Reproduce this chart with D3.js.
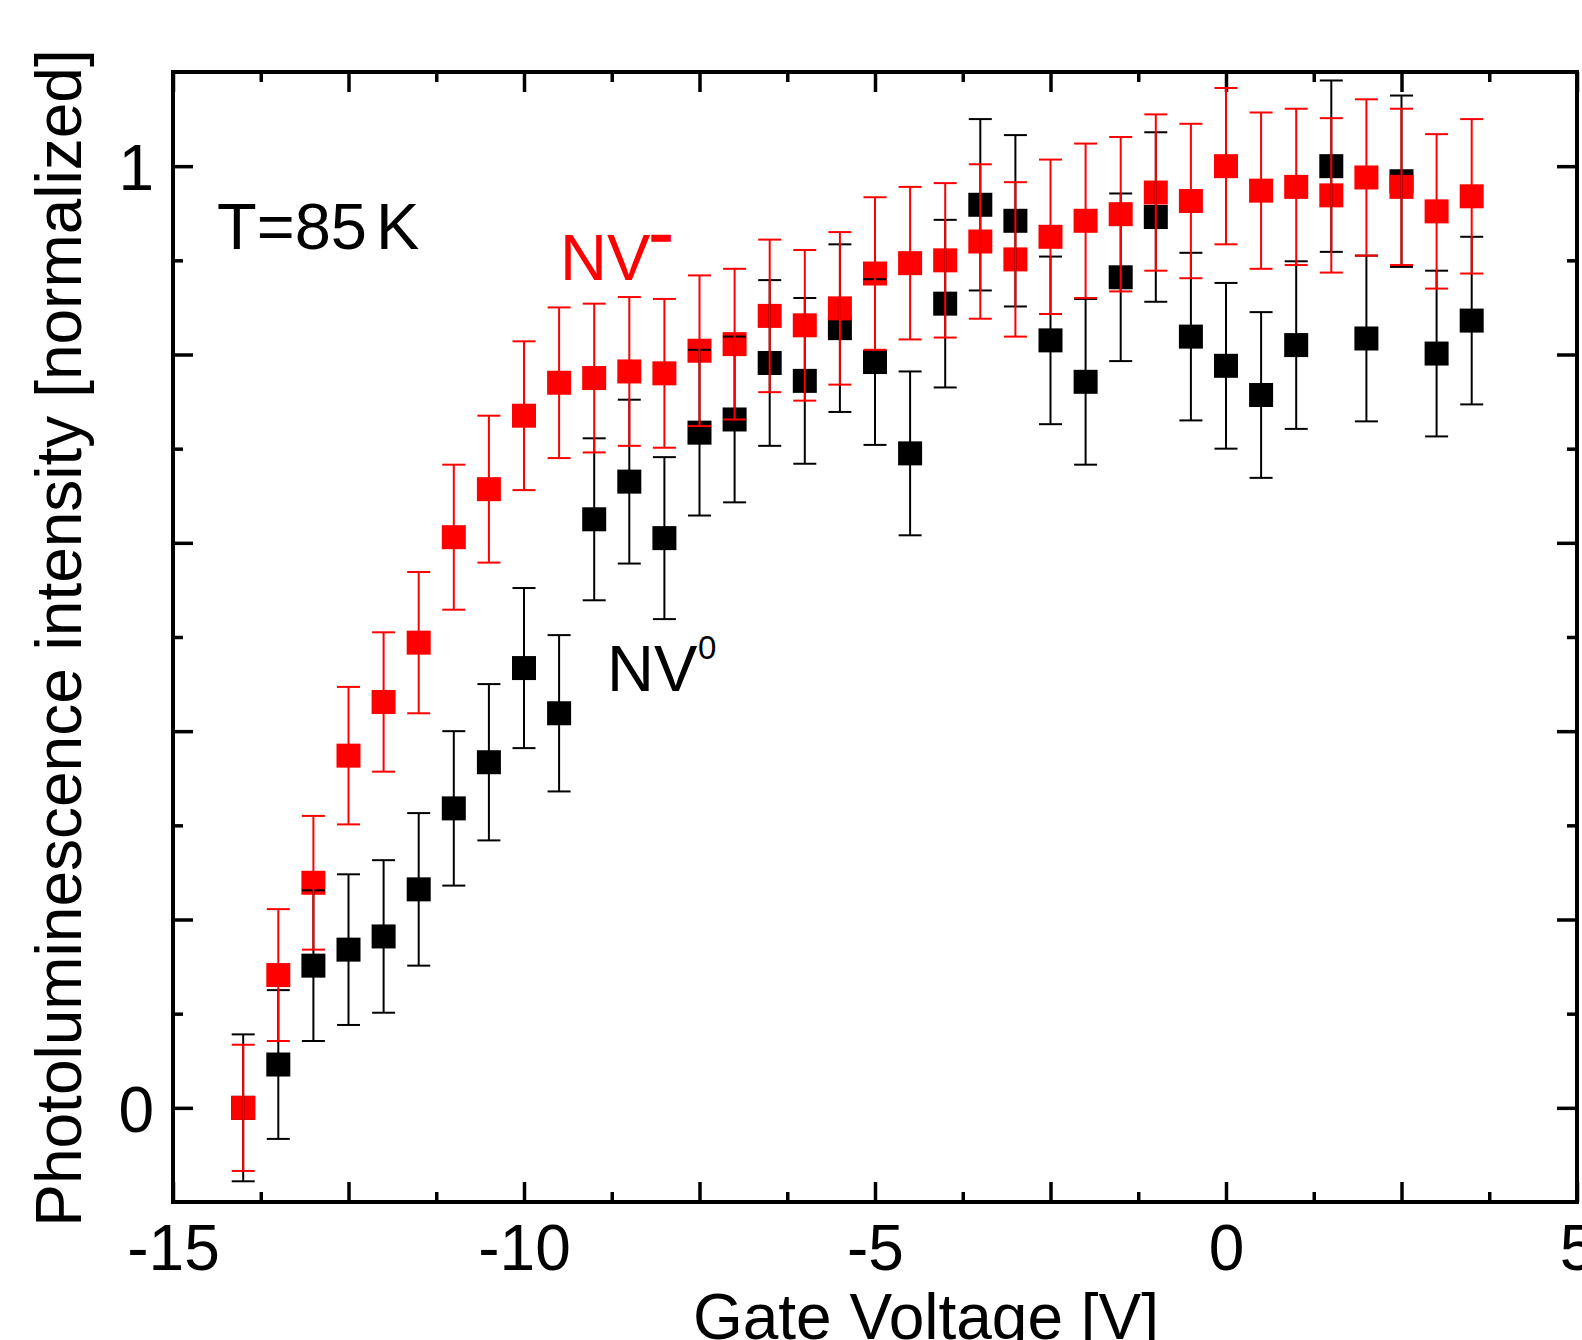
<!DOCTYPE html>
<html>
<head>
<meta charset="utf-8">
<script src="https://cdn.jsdelivr.net/npm/d3@7"></script>
<style>
  html, body { margin: 0; padding: 0; background: #fff; }
  svg { display: block; font-family: "Liberation Sans", Arial, sans-serif; }
</style>
</head>
<body>
<svg id="chart" width="1582" height="1340"></svg>
<script>
// gate voltage steps [V]
const voltage = [-14, -13.5, -13, -12.5, -12, -11.5, -11, -10.5, -10, -9.5, -9, -8.5, -8, -7.5, -7, -6.5, -6, -5.5,
  -5, -4.5, -4, -3.5, -3, -2.5, -2, -1.5, -1, -0.5, 0, 0.5, 1, 1.5, 2, 2.5, 3, 3.5];

// NV- (red)
const nvMinus = [0.000, 0.141, 0.239, 0.374, 0.431, 0.494, 0.606, 0.657, 0.735, 0.770, 0.775, 0.782, 0.780, 0.804,
  0.811, 0.841, 0.831, 0.849, 0.886, 0.897, 0.900, 0.920, 0.901, 0.925, 0.942, 0.949, 0.972, 0.963, 1.000, 0.974,
  0.978, 0.969, 0.988, 0.978, 0.952, 0.968];
const nvMinusErr = [0.067, 0.070, 0.071, 0.073, 0.074, 0.075, 0.077, 0.078, 0.079, 0.080, 0.079, 0.079, 0.079, 0.080,
  0.080, 0.081, 0.080, 0.081, 0.081, 0.081, 0.082, 0.082, 0.082, 0.082, 0.082, 0.082, 0.083, 0.082, 0.083, 0.083,
  0.083, 0.082, 0.083, 0.083, 0.082, 0.082];

// NV0 (black)
const nvZero = [0.000, 0.046, 0.151, 0.168, 0.182, 0.232, 0.318, 0.367, 0.467, 0.419, 0.625, 0.665, 0.605, 0.717,
  0.731, 0.791, 0.772, 0.828, 0.792, 0.695, 0.854, 0.959, 0.942, 0.815, 0.771, 0.882, 0.946, 0.819, 0.788, 0.757,
  0.810, 1.000, 0.817, 0.984, 0.801, 0.836];
const nvZeroErr = [0.078, 0.079, 0.080, 0.080, 0.081, 0.081, 0.082, 0.083, 0.085, 0.083, 0.086, 0.087, 0.086, 0.088,
  0.088, 0.088, 0.088, 0.089, 0.088, 0.087, 0.089, 0.091, 0.091, 0.089, 0.088, 0.089, 0.090, 0.089, 0.088, 0.088,
  0.089, 0.091, 0.088, 0.091, 0.088, 0.089];

// ticks
const xMajorTicks = [-15, -12.5, -10, -7.5, -5, -2.5, 0, 2.5, 5];
const xMinorTicks = [-13.75, -11.25, -8.75, -6.25, -3.75, -1.25, 1.25, 3.75];
const xLabels = [-15, -10, -5, 0, 5];
const yMajorTicks = [0, 0.2, 0.4, 0.6, 0.8, 1];
const yMinorTicks = [0.1, 0.3, 0.5, 0.7, 0.9];
const yLabels = [0, 1];

const FONT = '"Liberation Sans", Arial, sans-serif';
const frame = { left: 173, right: 1577, top: 72, bottom: 1202 };

const x = d3.scaleLinear().domain([-15, 5]).range([frame.left, frame.right]);
const y = d3.scaleLinear().domain([-0.1, 1.1]).range([frame.bottom, frame.top]);

const svg = d3.select('#chart');

// ticks point inward on all four sides, labels only bottom/left
function addAxis(gen, tx, ty, ticks, len, labels, pad) {
  const g = svg.append('g').attr('transform', `translate(${tx},${ty})`)
    .call(gen.tickValues(ticks).tickSize(-len).tickPadding(pad || 0)
      .tickFormat(d => labels && labels.includes(d) ? String(d) : ''));
  g.attr('font-family', FONT).attr('font-size', 64);
  g.select('.domain').remove();
  g.selectAll('.tick line').attr('stroke', '#000').attr('stroke-width', 3.5);
  g.selectAll('.tick text').attr('fill', '#000');
  return g;
}

addAxis(d3.axisBottom(x), 0, frame.bottom, xMajorTicks, 20, xLabels, 23);
addAxis(d3.axisBottom(x), 0, frame.bottom, xMinorTicks, 10);
addAxis(d3.axisTop(x), 0, frame.top, xMajorTicks, 20);
addAxis(d3.axisTop(x), 0, frame.top, xMinorTicks, 10);
addAxis(d3.axisLeft(y), frame.left, 0, yMajorTicks, 20, yLabels, 19)
  .selectAll('.tick text').attr('dy', '0.37em');
addAxis(d3.axisLeft(y), frame.left, 0, yMinorTicks, 10);
addAxis(d3.axisRight(y), frame.right, 0, yMajorTicks, 20);
addAxis(d3.axisRight(y), frame.right, 0, yMinorTicks, 10);

svg.append('rect')
  .attr('x', frame.left).attr('y', frame.top)
  .attr('width', frame.right - frame.left).attr('height', frame.bottom - frame.top)
  .attr('fill', 'none').attr('stroke', '#000').attr('stroke-width', 4);

// data
const series = [
  { name: 'NV0', color: '#000000', rows: voltage.map((v, i) => ({ v, val: nvZero[i], err: nvZeroErr[i] })) },
  { name: 'NV-', color: '#ff0000', rows: voltage.map((v, i) => ({ v, val: nvMinus[i], err: nvMinusErr[i] })) }
];

const MARK = 24, CAP = 11.5;
const plot = svg.append('g');

// symbols first, error bars drawn over them
series.forEach(s => {
  plot.append('g').selectAll('rect').data(s.rows).enter().append('rect')
    .attr('x', d => x(d.v) - MARK / 2).attr('y', d => y(d.val) - MARK / 2)
    .attr('width', MARK).attr('height', MARK).attr('fill', s.color);
});

series.forEach(s => {
  const eb = plot.append('g').attr('stroke', s.color).attr('stroke-width', 2)
    .selectAll('g').data(s.rows).enter().append('g');
  eb.append('line')
    .attr('x1', d => x(d.v)).attr('x2', d => x(d.v))
    .attr('y1', d => y(d.val + d.err)).attr('y2', d => y(d.val - d.err));
  eb.append('line')
    .attr('x1', d => x(d.v) - CAP).attr('x2', d => x(d.v) + CAP)
    .attr('y1', d => y(d.val + d.err)).attr('y2', d => y(d.val + d.err));
  eb.append('line')
    .attr('x1', d => x(d.v) - CAP).attr('x2', d => x(d.v) + CAP)
    .attr('y1', d => y(d.val - d.err)).attr('y2', d => y(d.val - d.err));
});

// annotations
const tLabel = svg.append('text').attr('x', 217).attr('y', 249)
  .attr('font-family', FONT).attr('font-size', 65).attr('fill', '#000');
tLabel.append('tspan').text('T=85');
tLabel.append('tspan').attr('dx', 9).text('K');

svg.append('text').attr('x', 560).attr('y', 280)
  .attr('font-family', FONT).attr('font-size', 65).attr('fill', '#ff0000').text('NV');
// superscript minus, thickened
svg.append('text').attr('x', 652).attr('y', 249)
  .attr('font-family', FONT).attr('font-size', 32).attr('font-weight', 'bold').attr('fill', '#ff0000')
  .attr('stroke', '#ff0000').attr('stroke-width', 3.5).attr('stroke-linejoin', 'miter').text('\u2212');

svg.append('text').attr('x', 607).attr('y', 691)
  .attr('font-family', FONT).attr('font-size', 65).attr('fill', '#000').text('NV');
svg.append('text').attr('x', 698).attr('y', 659)
  .attr('font-family', FONT).attr('font-size', 33).attr('fill', '#000').text('0');

// axis titles
svg.append('text').attr('x', 926).attr('y', 1339).attr('text-anchor', 'middle')
  .attr('font-family', FONT).attr('font-size', 64).attr('fill', '#000').text('Gate Voltage [V]');
svg.append('text').attr('transform', 'translate(81,638) rotate(-90)').attr('text-anchor', 'middle')
  .attr('font-family', FONT).attr('font-size', 64).attr('fill', '#000')
  .text('Photoluminescence intensity [normalized]');
</script>
</body>
</html>
